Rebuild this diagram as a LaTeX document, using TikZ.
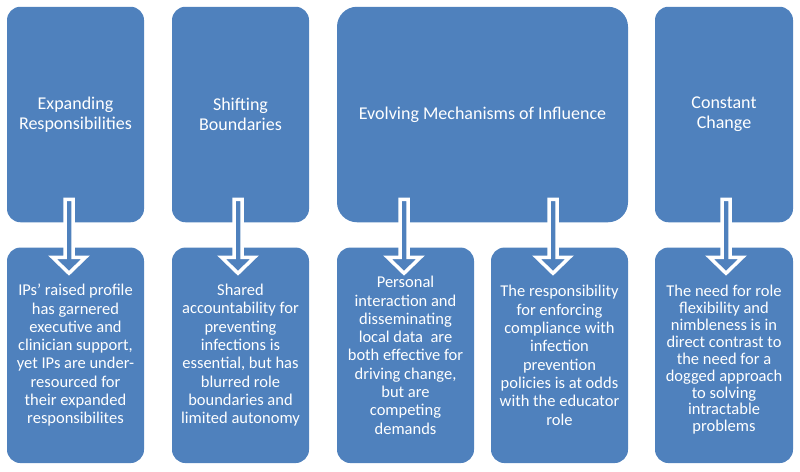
\documentclass[tikz,border=0pt]{standalone}
\usepackage{fontspec}
\setmainfont{Carlito}
\usetikzlibrary{calc}
\definecolor{boxblue}{HTML}{4F81BD}
\tikzset{
  box/.style={rectangle, fill=boxblue, inner sep=0pt, outer sep=0pt,
    text=white, align=center, minimum width=137pt, minimum height=215.5pt,
    rounded corners=13.5pt},
  headtext/.style={font={\fontsize{18}{20}\selectfont}},
  bodytext/.style={font={\fontsize{16.5}{18.3}\selectfont}},
  tighttext/.style={font={\fontsize{16.5}{16.9}\selectfont}},
  downarrow/.pic={
    \path[fill=boxblue, draw=white, line width=3.5pt, line join=miter]
      (-4,0) -- (4,0) -- (4,58) -- (16.5,58) -- (0,74) -- (-16.5,58) -- (-4,58) -- cycle;
  }
}
\begin{document}
\begin{tikzpicture}[x=1pt,y=-1pt]
\useasboundingbox (0,0) rectangle (800,471);
% top row
\node[box, headtext] (top1) at (75.5,114.5) {Expanding\\Responsibilities};
\node[box, headtext] (top2) at (240.5,114.5) {Shifting\\Boundaries};
\node[box, headtext, minimum width=291pt, rounded corners=20pt] (top3) at (482.5,114.5) {Evolving Mechanisms of Influence};
\node[box, headtext, minimum width=138pt] (top4) at (724,114.5) {Constant\\Change};
% bottom row
\node[box, bodytext] (bot1) at (75.5,355.3) {IPs' raised profile\\has garnered\\executive and\\clinician support,\\yet IPs are under-\\resourced for\\their expanded\\responsibilites};
\node[box, bodytext] (bot2) at (240.5,355.3) {Shared\\accountability for\\preventing\\infections is\\essential, but has\\blurred role\\boundaries and\\limited autonomy};
\node[box, bodytext] (bot3) at (405.5,355.3) {Personal\\interaction and\\disseminating\\local data\ \ are\\both effective for\\driving change,\\but are\\competing\\demands};
\node[box, bodytext] (bot4) at (559.5,355.3) {The responsibility\\for enforcing\\compliance with\\infection\\prevention\\policies is at odds\\with the educator\\role};
\node[box, minimum width=138pt] (bot5) at (724,355.3) {};
\node[tighttext, text=white, align=center, inner sep=0pt] (bot5text) at ($(bot5.center)+(0,4.5)$) {The need for role\\flexibility and\\nimbleness is in\\direct contrast to\\the need for a\\dogged approach\\to solving\\intractable\\problems};
% block arrows
\pic (arr1) at ($(top1.south)+(-6.5,-23)$) {downarrow};
\pic (arr2) at ($(top2.south)+(-2.5,-23)$) {downarrow};
\pic (arr3) at ($(bot3.north |- top3.south)+(-1.5,-23)$) {downarrow};
\pic (arr4) at ($(bot4.north |- top3.south)+(-6.5,-23)$) {downarrow};
\pic (arr5) at ($(top4.south)+(2,-23)$) {downarrow};
\end{tikzpicture}
\end{document}
